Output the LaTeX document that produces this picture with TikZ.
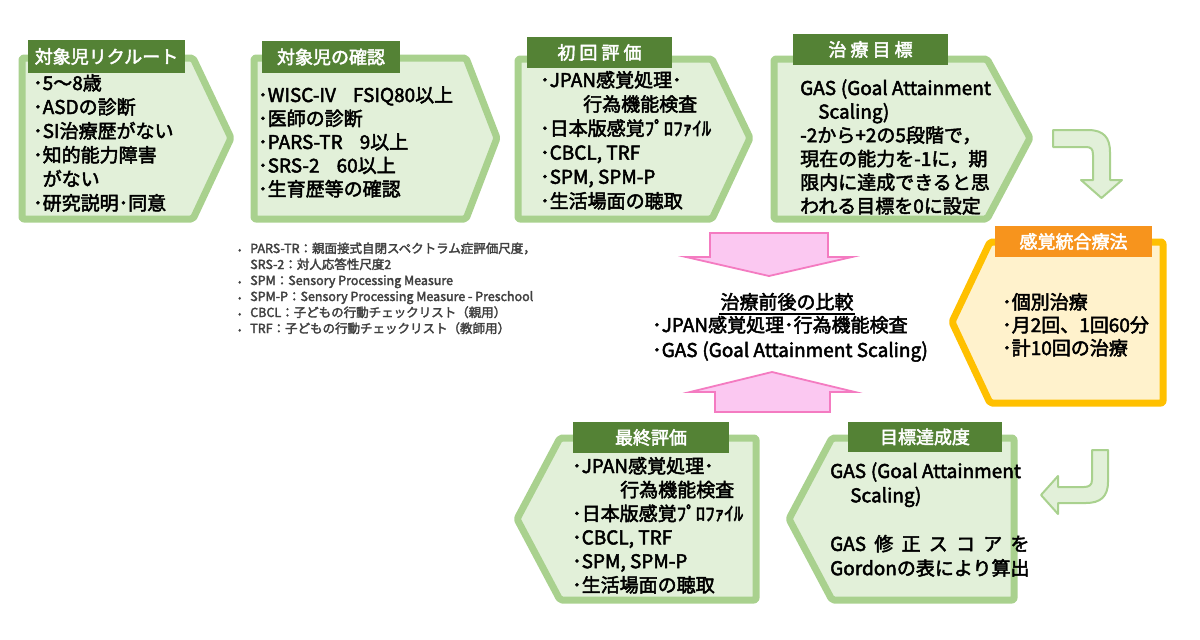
\documentclass[tikz,border=0pt]{standalone}
\usepackage{fontspec}
\setmainfont{Noto Sans CJK JP}[FakeBold=2.5]
\definecolor{gline}{HTML}{A9D18E}
\definecolor{gfill}{HTML}{E2F0D9}
\definecolor{glab}{HTML}{548235}
\definecolor{oline}{HTML}{FFC000}
\definecolor{ofill}{HTML}{FFF2CC}
\definecolor{olabc}{HTML}{F7941D}
\definecolor{pline}{HTML}{F47BC1}
\definecolor{pfill}{HTML}{FBC8F1}
\definecolor{notegray}{HTML}{404040}
\newcommand{\mylines}[1]{\begin{tabular}[t]{@{}l@{}}#1\end{tabular}}
\newlength{\gordw}
\begin{document}
\begin{tikzpicture}[x=1pt,y=-1pt,
  gbox/.style={draw=gline, fill=gfill, line width=7pt, line join=round, rounded corners=2pt},
  obox/.style={draw=oline, fill=ofill, line width=7pt, line join=round, rounded corners=2pt},
  lab/.style={fill=glab, text=white, inner sep=0pt, font=\fontsize{18}{20}\selectfont},
  olab/.style={lab, fill=olabc},
  body/.style={anchor=base west, inner sep=0pt, text=black},
  pinkarrow/.style={draw=pline, fill=pfill, line width=1.8pt, line join=miter},
  garrow/.style={draw=gline, fill=gfill, line width=2pt, line join=round}]
\useasboundingbox (0,0) rectangle (1200,640);
\fill[white] (0,0) rectangle (1200,640);

% green chevrons (top row)
\draw[gbox] (22,58) -- (193,58) -- (231,138) -- (193,219) -- (22,219) -- cycle;
\draw[gbox] (254,58) -- (466,58) -- (497,138) -- (466,219) -- (254,219) -- cycle;
\draw[gbox] (518,59) -- (712,59) -- (750,138) -- (712,219) -- (518,219) -- cycle;
\draw[gbox] (774,59) -- (987,59) -- (1030,138) -- (987,219) -- (774,219) -- cycle;
% orange box
\draw[obox] (952,322) -- (990,242) -- (1163,242) -- (1163,403) -- (990,403) -- cycle;
% bottom row
\draw[gbox] (517,519) -- (560,438) -- (756,438) -- (756,600) -- (560,600) -- cycle;
\draw[gbox] (789,519) -- (832,438) -- (1014,438) -- (1014,600) -- (832,600) -- cycle;

% pink arrows
\draw[pinkarrow] (710,233) -- (828,233) -- (828,257) -- (852,257) -- (769,276) -- (686,257) -- (710,257) -- cycle;
\draw[pinkarrow] (715,412) -- (830,412) -- (830,392) -- (855,392) -- (772,372) -- (690,392) -- (715,392) -- cycle;

% curved green arrows
\draw[garrow] (1053,130) -- (1088,130) .. controls (1104,130) and (1110,138) .. (1110,152)
  -- (1110,180) -- (1122,180) -- (1101.5,198) -- (1081,180) -- (1093,180) -- (1093,155)
  .. controls (1093,149) and (1091,147) .. (1086,147) -- (1053,147) -- cycle;
\draw[garrow] (1092,450) -- (1108,450) -- (1108,482) .. controls (1108,497) and (1100,503) .. (1086,503)
  -- (1058,503) -- (1058,514) -- (1041,495) -- (1058,476) -- (1058,487) -- (1084,487)
  .. controls (1089,487) and (1092,485) .. (1092,480) -- cycle;

% labels
\node[lab, minimum width=157pt, minimum height=33pt] (l1) at (106.5,56.5) {対象児リクルート};
\node[lab, minimum width=138pt, minimum height=32pt] (l2) at (331,57) {対象児の確認};
\node[lab, minimum width=145pt, minimum height=31pt] (l3) at (599.5,52.5) {初 回 評 価};
\node[lab, minimum width=155pt, minimum height=31pt] (l4) at (870.5,49.5) {治 療 目 標};
\node[olab, minimum width=157pt, minimum height=31pt] (l5) at (1073.5,241.5) {感覚統合療法};
\node[lab, minimum width=156pt, minimum height=31pt] (l6) at (651,437.5) {最終評価};
\node[lab, minimum width=154pt, minimum height=30pt] (l7) at (925,437) {目標達成度};

% body texts
\node[body, font=\fontsize{19}{24}\selectfont] (t1) at (33,90) {\mylines{%
･5～8歳\\ ･ASDの診断\\ ･SI治療歴がない\\ ･知的能力障害\\ \hphantom{･}がない\\ ･研究説明･同意}};
\node[body, font=\fontsize{19}{23.5}\selectfont] (t2) at (258,102) {\mylines{%
･WISC-IV\hspace{0.9em}FSIQ80以上\\ ･医師の診断\\ ･PARS-TR\hspace{0.9em}9以上\\ ･SRS-2\hspace{0.9em}60以上\\ ･生育歴等の確認}};
\node[body, font=\fontsize{19}{24.2}\selectfont] (t3) at (540,87) {\mylines{%
･JPAN感覚処理･\\ \hspace{43pt}行為機能検査\\ ･日本版感覚ﾌﾟﾛﾌｧｲﾙ\\ ･CBCL, TRF\\ ･SPM, SPM-P\\ ･生活場面の聴取}};
\node[body, font=\fontsize{19}{23.6}\selectfont] (t4) at (800,95) {\mylines{%
GAS\hspace{0.25em}(Goal Attainment\\ \hspace{18pt}Scaling)\\ -2から+2の5段階で，\\ 現在の能力を-1に，期\\ 限内に達成できると思\\ われる目標を0に設定}};
\node[body, font=\fontsize{19}{23}\selectfont] (t5) at (1002,309) {\mylines{%
･個別治療\\ ･月2回、1回60分\\ ･計10回の治療}};
\node[body, font=\fontsize{19}{23.8}\selectfont] (t6) at (572,473) {\mylines{%
･JPAN感覚処理･\\ \hspace{48pt}行為機能検査\\ ･日本版感覚ﾌﾟﾛﾌｧｲﾙ\\ ･CBCL, TRF\\ ･SPM, SPM-P\\ ･生活場面の聴取}};
\node[body, font=\fontsize{19}{24.3}\selectfont] (t7) at (830,478) {\settowidth{\gordw}{Gordonの表により算出}\mylines{%
GAS\hspace{0.25em}(Goal Attainment\\ \hspace{20pt}Scaling)\\ \\ \makebox[\gordw][s]{GAS\hfill 修\hfill 正\hfill ス\hfill コ\hfill ア\hfill を}\\ Gordonの表により算出}};

% notes
\node[body, text=notegray, font=\fontsize{12.5}{16}\selectfont] (n1) at (238,253) {%
\begin{tabular}[t]{@{}l@{\hspace{9pt}}l@{}}
{\fontsize{9}{16}\selectfont •} & PARS-TR：親面接式自閉スペクトラム症評価尺度，\\
 & SRS-2：対人応答性尺度2\\
{\fontsize{9}{16}\selectfont •} & SPM：Sensory Processing Measure\\
{\fontsize{9}{16}\selectfont •} & SPM-P：Sensory Processing Measure - Preschool\\
{\fontsize{9}{16}\selectfont •} & CBCL：子どもの行動チェックリスト（親用）\\
{\fontsize{9}{16}\selectfont •} & TRF：子どもの行動チェックリスト（教師用）
\end{tabular}};

% comparison
\node[anchor=base, inner sep=0pt, font=\fontsize{19}{25}\selectfont] (c0) at (787,309) {治療前後の比較};
\fill[black] (719,313) rectangle (855,315);
\node[body, font=\fontsize{19}{25}\selectfont] (c1) at (652,332) {\mylines{%
･JPAN感覚処理･行為機能検査\\ ･GAS\hspace{0.25em}(Goal Attainment Scaling)}};
\end{tikzpicture}
\end{document}
